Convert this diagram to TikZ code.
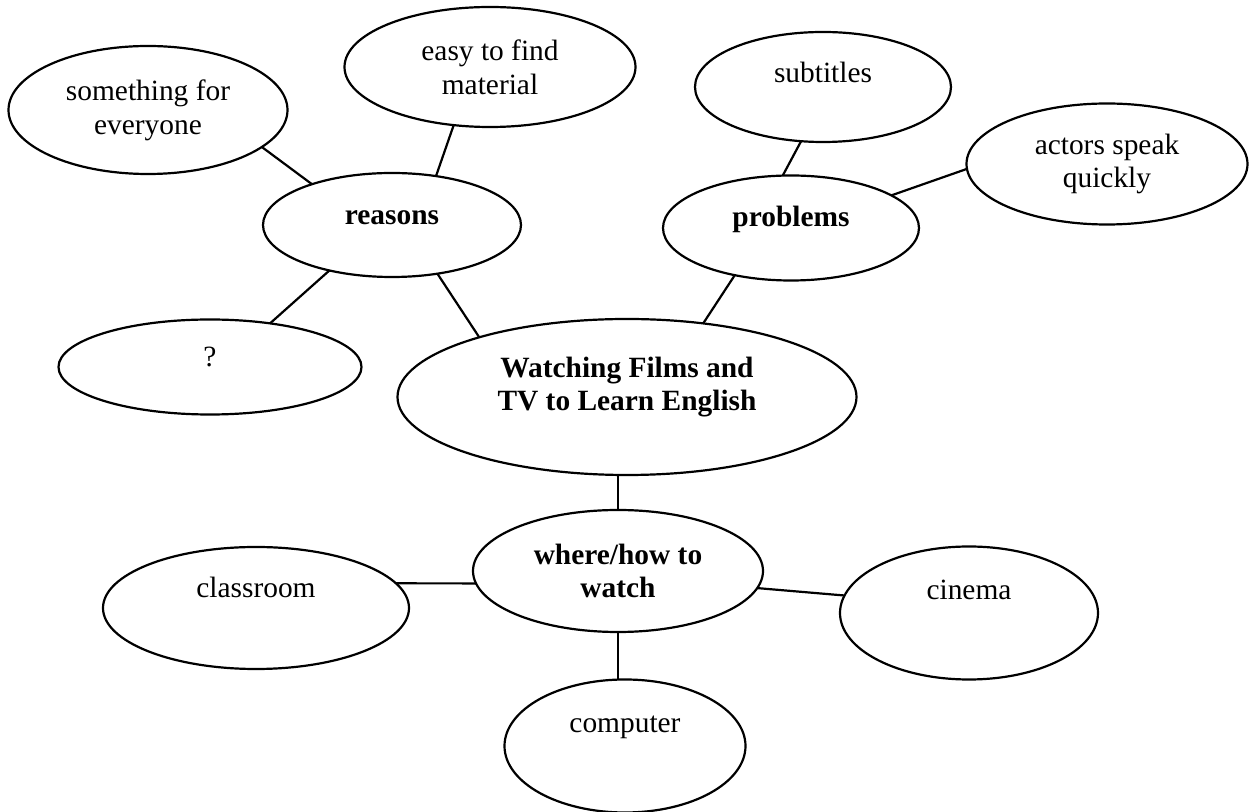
\documentclass[tikz,border=0pt]{standalone}
\usepackage{fontspec}
\setmainfont{Liberation Serif}
\usetikzlibrary{shapes}

\begin{document}
\begin{tikzpicture}[x=0.5pt,y=-0.5pt,
		bubble/.style={draw,ellipse,line width=1.1pt,inner sep=0pt,outer sep=0pt,align=center,font=\fontsize{14.7}{16.9}\selectfont},
		lift/.style={text height=0pt,text depth=#1}]
		\useasboundingbox (0,0) rectangle (1250,812);
		% centre and branches
		\node [bubble,text height=14pt,text depth=0pt,minimum width=229.5pt,minimum height=78pt] (main) at (627,397) {\bfseries Watching Films and\\\bfseries TV to Learn English};
		\node [bubble,lift=0pt,minimum width=129pt,minimum height=52pt] (reasons) at (392,225) {\bfseries reasons};
		\node [bubble,lift=1pt,minimum width=128pt,minimum height=52.5pt] (problems) at (791,228) {\bfseries problems};
		\node [bubble,minimum width=145pt,minimum height=61pt] (where) at (618,571) {\bfseries where/how to\\\bfseries watch};
		% leaves
		\node [bubble,minimum width=139.5pt,minimum height=64pt] (something) at (148,110) {something for\\everyone};
		\node [bubble,minimum width=145.5pt,minimum height=60pt] (easy) at (490,67) {easy to find\\material};
		\node [bubble,lift=0pt,minimum width=151.5pt,minimum height=47.5pt] (question) at (210,367) {?};
		\node [bubble,lift=4pt,minimum width=128pt,minimum height=55pt] (subtitles) at (823,87) {subtitles};
		\node [bubble,minimum width=140.5pt,minimum height=60.5pt] (actors) at (1107,164) {actors speak\\quickly};
		\node [bubble,lift=10pt,minimum width=153pt,minimum height=61pt] (classroom) at (256,608) {classroom};
		\node [bubble,lift=13pt,minimum width=129pt,minimum height=66.5pt] (cinema) at (969,613) {cinema};
		\node [bubble,lift=13pt,minimum width=120.5pt,minimum height=66.5pt] (computer) at (625,746) {computer};
		% connectors
		\begin{scope}[line width=1.1pt]
			\draw (something.342) -- (reasons.153);
			\draw (easy.238) -- (reasons.48);
			\draw (reasons.216) -- (question.36);
			\draw (reasons.313) -- (main.158);
			\draw (subtitles.248) -- (problems.99);
			\draw (problems.18) -- (actors.182);
			\draw (problems.220) -- (main.44);
			\draw (where.north) -- (where.north |- main.south);
			\draw (where.185) -- (classroom.10);
			\draw (where.353) -- (cinema.172);
			\draw (where.south) -- (where.south |- computer.north);
		\end{scope}
	\end{tikzpicture}
\end{document}
